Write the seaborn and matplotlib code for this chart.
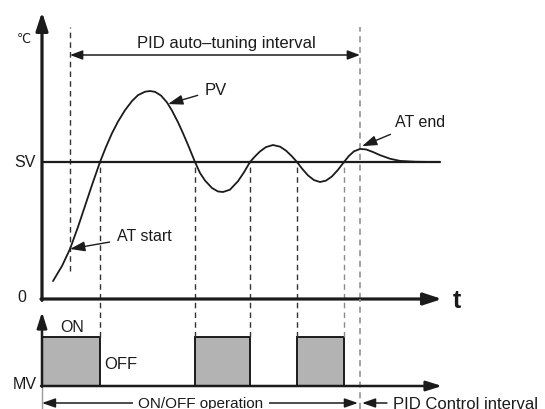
import numpy as np
import matplotlib
matplotlib.use("Agg")
import matplotlib.pyplot as plt
import seaborn as sns

# ---- data -------------------------------------------------------------
# process value (PV) during auto-tuning; temperature scaled so SV = 100
pv_time = [11, 20, 28, 36, 43, 50, 58, 64, 70, 76, 83, 90, 96, 103, 108,
           113, 119, 125, 130, 136, 141, 146, 153, 158, 163, 170, 176, 181,
           188, 196, 202, 208, 213, 218, 224, 231, 238, 244, 250, 255, 260,
           266, 272, 278, 284, 290, 296, 302, 307, 312, 318, 324, 331, 338,
           348, 358, 373, 391]
pv_temp = [13.1, 24.1, 36.5, 52.6, 67.9, 83.2, 100.0, 111.0, 121.0, 129.5,
           137.8, 144.5, 148.8, 151.3, 151.8, 151.2, 148.5, 143.5, 137.5,
           129.0, 121.0, 112.5, 100.0, 92.0, 86.5, 81.0, 78.5, 78.1, 79.8,
           86.0, 92.5, 100.0, 104.1, 107.7, 110.9, 112.4, 111.2, 108.3,
           104.1, 100.0, 95.2, 90.2, 86.8, 85.4, 86.4, 89.5, 94.3, 100.0,
           104.5, 107.8, 109.5, 109.2, 107.3, 105.0, 102.4, 100.8, 100.2,
           100.0]
sv = 100

# auto-tuning window and ON/OFF switching instants (PV crosses SV)
at_start = 28
at_end = 318
switch_times = [58, 153, 208, 255, 302]

# manipulated value (MV): ON periods
mv_on_start = [0, 153, 255]
mv_on_end = [58, 208, 302]
mv_on = 100

# ---- style ------------------------------------------------------------
sns.set_theme(style="white")
plt.rcParams["font.family"] = ["Liberation Sans", "DejaVu Sans"]
INK = "#1b1b1b"
DASH_DARK = "#333333"
DASH_GREY = "#8a8a8a"
BAR_FILL = "#b3b3b3"

time_axis_end = 400
temp_top = 300 / 1.37
mv_low, mv_high = -23 / 0.49, 87 / 0.49

fig = plt.figure(figsize=(5.45, 4.1), dpi=100)
ax = fig.add_axes([0, 110 / 410, 1, 300 / 410])
mv_ax = fig.add_axes([0, 0, 1, 110 / 410])
for a in (ax, mv_ax):
    a.set_xlim(-42, 503)
    a.axis("off")
    a.patch.set_visible(False)
ax.set_ylim(0, temp_top)
mv_ax.set_ylim(mv_low, mv_high)


def arrow(a, start, end, style, lw, color=INK, sa=0, sb=0):
    a.annotate("", xy=end, xytext=start, annotation_clip=False,
               arrowprops=dict(arrowstyle=style, lw=lw, color=color,
                               shrinkA=sa, shrinkB=sb, mutation_scale=10))


# ---- upper panel: PV vs time ------------------------------------------
sns.lineplot(x=pv_time, y=pv_temp, ax=ax, color=INK, lw=1.3,
             sort=False, estimator=None, legend=False, zorder=4)
sns.lineplot(x=[0, time_axis_end - 2], y=[sv, sv], ax=ax, color=INK,
             lw=1.6, estimator=None, legend=False, zorder=3)

dash = (0, (4, 3))
ax.vlines(at_start, 20.4, 198.5, colors=DASH_DARK, lw=1, linestyles=dash,
          clip_on=False)
ax.vlines(at_end, 0, 198.5, colors=DASH_GREY, lw=1.1, linestyles=dash,
          clip_on=False)
for i, ts in enumerate(switch_times):
    c = DASH_GREY if i == len(switch_times) - 1 else DASH_DARK
    ax.vlines(ts, 0, sv, colors=c, lw=1, linestyles=dash, clip_on=False)

# axes with arrow heads
arrow(ax, (0, -1), (0, 209.5), "-|>,head_length=1.1,head_width=0.36", 2.3)
arrow(ax, (-1, 0), (time_axis_end, 0), "-|>,head_length=1.1,head_width=0.36", 2.3)

# auto-tuning interval
ax.annotate("", xy=(at_start, 178.1), xytext=(at_end, 178.1),
            arrowprops=dict(arrowstyle="<|-|>,head_length=0.75,head_width=0.28",
                            lw=1.1, color=INK, shrinkA=0, shrinkB=0,
                            mutation_scale=10))
ax.text(184, 187.5, "PID auto\u2013tuning interval", ha="center", va="center",
        fontsize=12, color=INK)

ax.text(-18, 190.5, "\u2103", ha="center", va="center", fontsize=9,
        color=INK, family=["DejaVu Sans"])
ax.text(-17, sv, "SV", ha="center", va="center", fontsize=11.5, color=INK)
ax.text(-20, 1.5, "0", ha="center", va="center", fontsize=11.5, color=INK)
ax.text(415, -0.5, "t", ha="center", va="center", fontsize=18,
        fontweight="bold", color=INK)

label_arrow = dict(arrowstyle="-|>,head_length=0.9,head_width=0.3", lw=1,
                   color=INK, shrinkA=3, shrinkB=0, mutation_scale=10)
pv_mark = 126
ax.annotate("PV", xy=(pv_mark, np.interp(pv_mark, pv_time, pv_temp)),
            xytext=(163, 152.6), ha="left", va="center", fontsize=12,
            color=INK, arrowprops=label_arrow)
ax.annotate("AT start", xy=(at_start, np.interp(at_start, pv_time, pv_temp)),
            xytext=(75, 46), ha="left", va="center", fontsize=11.5,
            color=INK, arrowprops=label_arrow)
ax.annotate("AT end", xy=(at_end + 2, np.interp(at_end, pv_time, pv_temp) + 2),
            xytext=(353, 129.2), ha="left", va="center", fontsize=11.5,
            color=INK, arrowprops=label_arrow)

# ---- lower panel: MV (ON/OFF) -----------------------------------------
mv_ax.bar(mv_on_start, [mv_on] * len(mv_on_start),
          width=np.subtract(mv_on_end, mv_on_start), align="edge",
          color=BAR_FILL, edgecolor=INK, lw=1.4, zorder=2)

for i, ts in enumerate(switch_times):
    c = DASH_GREY if i == len(switch_times) - 1 else DASH_DARK
    mv_ax.vlines(ts, mv_on, mv_high, colors=c, lw=1, linestyles=dash,
                 clip_on=False)
mv_ax.vlines(at_end, mv_low, mv_high, colors=DASH_GREY, lw=1.1,
             linestyles=dash, clip_on=False)
mv_ax.vlines(0, mv_low, 0, colors="#9a9a9a", lw=1, clip_on=False)

arrow(mv_ax, (0, -1.5), (0, 151), "-|>,head_length=0.95,head_width=0.3", 1.8)
arrow(mv_ax, (-1, 0), (time_axis_end, 0), "-|>,head_length=0.95,head_width=0.3", 1.8)

mv_ax.text(30, 122.4, "ON", ha="center", va="center", fontsize=11.5, color=INK)
mv_ax.text(62, 46.9, "OFF", ha="left", va="center", fontsize=12, color=INK)
mv_ax.text(-17, 6.1, "MV", ha="center", va="center", fontsize=11.5, color=INK)

row = -34.7
mv_ax.annotate("", xy=(0, row), xytext=(at_end, row),
               arrowprops=dict(arrowstyle="<|-|>,head_length=0.8,head_width=0.28",
                               lw=1.1, color=INK, shrinkA=1.5, shrinkB=0,
                               mutation_scale=10))
mv_ax.text(159, row, "ON/OFF operation", ha="center", va="center",
           fontsize=11, color=INK, zorder=5,
           bbox=dict(boxstyle="square,pad=0.35", fc="white", ec="none"))
mv_ax.annotate("PID Control interval", xy=(at_end, row), xytext=(351, row),
               ha="left", va="center", fontsize=12, color=INK,
               arrowprops=dict(arrowstyle="-|>,head_length=0.8,head_width=0.28",
                               lw=1.1, color=INK, shrinkA=2, shrinkB=1.5,
                               mutation_scale=10))

fig.savefig("out.png", dpi=100)
